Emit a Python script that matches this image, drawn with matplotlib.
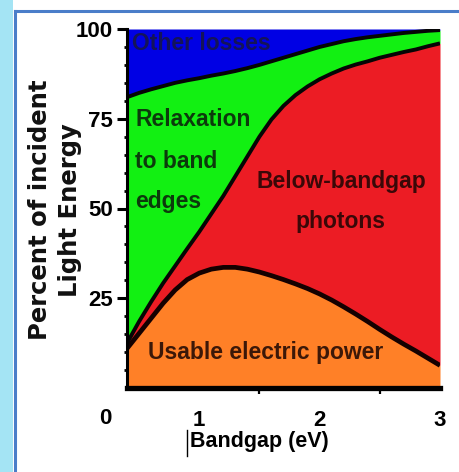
import matplotlib
matplotlib.use('Agg')
import matplotlib.pyplot as plt
from matplotlib.lines import Line2D
from matplotlib.patches import Rectangle

# ---- data ----
bandgap = [0.4, 0.5, 0.6, 0.7, 0.8, 0.9, 1.0, 1.1, 1.2, 1.3, 1.4, 1.5, 1.6, 1.7,
           1.8, 1.9, 2.0, 2.1, 2.2, 2.3, 2.4, 2.5, 2.6, 2.7, 2.8, 2.9, 3.0]
usable_power = [11.0, 15.2, 19.4, 23.6, 27.3, 30.2, 32.0, 33.1, 33.6, 33.6, 33.1, 32.3,
                31.3, 30.2, 29.0, 27.7, 26.2, 24.5, 22.6, 20.6, 18.5, 16.3, 14.2, 12.2,
                10.3, 8.3, 6.3]
below_bandgap_top = [12.5, 18.5, 24.0, 29.2, 34.0, 38.8, 43.5, 48.5, 53.5, 59.0, 64.5,
                     70.0, 74.8, 78.6, 81.6, 84.0, 86.0, 87.6, 89.0, 90.1, 91.0, 92.0,
                     92.8, 93.6, 94.3, 95.2, 96.0]
relaxation_top = [81.0, 82.2, 83.2, 84.1, 85.0, 85.7, 86.3, 87.0, 87.6, 88.3, 89.1, 90.0,
                  91.0, 92.0, 93.0, 94.0, 95.0, 95.8, 96.6, 97.2, 97.7, 98.1, 98.5, 98.9,
                  99.2, 99.5, 99.7]
total = 100

region_labels = ["Other losses", "Relaxation", "to band", "edges",
                 "Below-bandgap", "photons", "Usable electric power"]
ytick_vals = [25, 50, 75, 100]
xtick_vals = [1, 2, 3]
xminor_vals = [1, 1.5, 2, 2.5]

W, H = 459, 472
fig = plt.figure(figsize=(W / 100, H / 100), dpi=100)
fig.patch.set_facecolor('white')

# decorative slide frame
fig.patches.append(Rectangle((0, 0), 13 / W, 1, transform=fig.transFigure,
                             facecolor='#a4e4f4', edgecolor='none', zorder=0))
fig.add_artist(Line2D([15 / W, 15 / W], [0, 1 - 11 / H], transform=fig.transFigure,
                      color='#4a7dc9', lw=2.2))
fig.add_artist(Line2D([15 / W, 1], [1 - 11 / H, 1 - 11 / H], transform=fig.transFigure,
                      color='#4a7dc9', lw=2.2))

ax = fig.add_axes([127 / W, 1 - 388 / H, 313 / W, 359 / H])

orange = '#ff8027'
red = '#ec1c24'
green = '#12f012'
blue = '#0000e4'

ax.fill_between(bandgap, 0, usable_power, color=orange, lw=0)
ax.fill_between(bandgap, usable_power, below_bandgap_top, color=red, lw=0)
ax.fill_between(bandgap, below_bandgap_top, relaxation_top, color=green, lw=0)
ax.fill_between(bandgap, relaxation_top, total, color=blue, lw=0)
ax.plot(bandgap, usable_power, color='#140000', lw=3.4, solid_capstyle='butt')
ax.plot(bandgap, below_bandgap_top, color='#050505', lw=2.8, solid_capstyle='butt')
ax.plot(bandgap, relaxation_top, color='#050505', lw=2.8, solid_capstyle='butt')

ax.set_xlim(0.4, 3.0)
ax.set_ylim(0, 100)
for s in ['top', 'right']:
    ax.spines[s].set_visible(False)
ax.spines['left'].set_linewidth(2.2)
ax.spines['bottom'].set_linewidth(3.8)

tick_font = dict(family=['Liberation Sans', 'DejaVu Sans'], weight='bold', size=16)

ax.set_yticks(ytick_vals)
ax.set_yticklabels([str(v) for v in ytick_vals], **tick_font)
ax.set_yticks(list(range(5, 100, 5)), minor=True)
ax.tick_params(axis='y', which='major', direction='out', length=7, width=2.2, pad=3)
ax.tick_params(axis='y', which='minor', direction='out', length=2.5, width=2.0)

ax.set_xticks(xtick_vals)
ax.set_xticklabels([str(v) for v in xtick_vals], **tick_font)
ax.set_xticks(xminor_vals, minor=True)
ax.tick_params(axis='x', which='major', length=0, pad=16)
ax.tick_params(axis='x', which='minor', direction='out', length=4, width=1.6)

fig.text(105 / W, 1 - 418 / H, "0", ha='center', va='center', **tick_font)

lab_font = dict(family=['Liberation Sans', 'DejaVu Sans'], weight='bold', size=16.5)
ax.text(0.44, 96.0, region_labels[0], color='#141458', ha='left', va='center', **lab_font)
ax.text(0.47, 74.9, region_labels[1], color='#0c3a0c', ha='left', va='center', **lab_font)
ax.text(0.47, 63.1, region_labels[2], color='#0c3a0c', ha='left', va='center', **lab_font)
ax.text(0.47, 52.0, region_labels[3], color='#0c3a0c', ha='left', va='center', **lab_font)
ax.text(2.18, 57.5, region_labels[4], color='#3a0808', ha='center', va='center', **lab_font)
ax.text(2.17, 46.4, region_labels[5], color='#3a0808', ha='center', va='center', **lab_font)
ax.text(1.55, 9.8, region_labels[6], color='#3c1808', ha='center', va='center', **lab_font)

fig.text(55 / W, 1 - 210 / H, "Percent of incident\nLight Energy", rotation=90,
         ha='center', va='center', multialignment='center', linespacing=1.3,
         family=['DejaVu Sans'], weight='bold', size=17.5, color='#111111')

fig.text(259 / W, 1 - 442 / H, "Bandgap (eV)", ha='center', va='center',
         family=['Liberation Sans', 'DejaVu Sans'], weight='bold', size=15.5)
fig.add_artist(Line2D([187 / W, 187 / W], [1 - 456 / H, 1 - 430 / H],
                      transform=fig.transFigure, color='black', lw=1.0))

fig.savefig('out.png', dpi=100)
